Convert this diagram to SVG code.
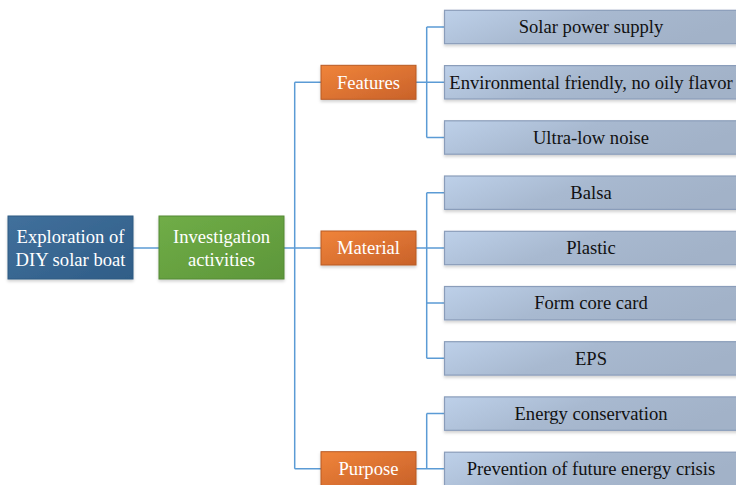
<svg xmlns="http://www.w3.org/2000/svg" width="736" height="485" viewBox="0 0 736 485">
<defs>
<linearGradient id="gBlue" x1="0" y1="0" x2="1" y2="1"><stop offset="0" stop-color="#41709c"/><stop offset="1" stop-color="#2f5d87"/></linearGradient>
<linearGradient id="gGreen" x1="0" y1="0" x2="1" y2="1"><stop offset="0" stop-color="#70ad47"/><stop offset="1" stop-color="#5d963a"/></linearGradient>
<linearGradient id="gOrange" x1="0" y1="0" x2="1" y2="1"><stop offset="0" stop-color="#f0843a"/><stop offset="1" stop-color="#c9622a"/></linearGradient>
<linearGradient id="gLeaf" x1="0" y1="0" x2="1" y2="0.3"><stop offset="0" stop-color="#bdd0e9"/><stop offset="0.5" stop-color="#a8b9d0"/><stop offset="1" stop-color="#a2b2c8"/></linearGradient>
<filter id="sh" x="-10%" y="-20%" width="120%" height="150%"><feDropShadow dx="0" dy="2" stdDeviation="1.5" flood-color="#000" flood-opacity="0.18"/></filter>
</defs>
<style>
.root{fill:url(#gBlue);stroke:#2e5a82;stroke-width:1}
.inv{fill:url(#gGreen);stroke:#548a34;stroke-width:1}
.cat{fill:url(#gOrange);stroke:#b85a24;stroke-width:1}
.leaf{fill:url(#gLeaf);stroke:#8a9dba;stroke-width:1.2}
.wt{font-family:"Liberation Serif","Times New Roman",serif;font-size:18.6px;fill:#fff;text-anchor:middle}
.bt{font-family:"Liberation Serif","Times New Roman",serif;font-size:18.6px;fill:#111;text-anchor:middle}
.con{fill:none;stroke:#5b9bd5;stroke-width:1.5}
</style>
<g id="connectors">
<path class="con" d="M133 248H159"/>
<path class="con" d="M284 248H321M294.7 82.3V468.7M294.7 82.3H321M294.7 468.7H321"/>
<path class="con" d="M416 82.3H444.5M426.7 27V137.5M426.7 27H444.5M426.7 137.5H444.5"/>
<path class="con" d="M416 248H444.5M426.7 192.7V358.3M426.7 192.7H444.5M426.7 303H444.5M426.7 358.3H444.5"/>
<path class="con" d="M416 468.7H444.5M426.7 413.5V468.7M426.7 413.5H444.5"/>
</g>
<g id="root"><rect class="root" x="8" y="216" width="125" height="63" filter="url(#sh)"/><text class="wt" x="70.5" y="242.5">Exploration of</text><text class="wt" x="70.5" y="265.5">DIY solar boat</text></g>
<g id="investigation"><rect class="inv" x="159" y="216" width="125" height="63" filter="url(#sh)"/><text class="wt" x="221.5" y="242.5">Investigation</text><text class="wt" x="221.5" y="265.5">activities</text></g>
<g id="features"><rect class="cat" x="321" y="65.3" width="95" height="34" filter="url(#sh)"/><text class="wt" x="368.5" y="88.5">Features</text></g>
<g id="material"><rect class="cat" x="321" y="231" width="95" height="34" filter="url(#sh)"/><text class="wt" x="368.5" y="254.2">Material</text></g>
<g id="purpose"><rect class="cat" x="321" y="451.7" width="95" height="34" filter="url(#sh)"/><text class="wt" x="368.5" y="474.9">Purpose</text></g>
<g id="leaf1"><rect class="leaf" x="444.5" y="10.3" width="296" height="33.4" filter="url(#sh)"/><text class="bt" x="591" y="33.2">Solar power supply</text></g>
<g id="leaf2"><rect class="leaf" x="444.5" y="65.6" width="296" height="33.4" filter="url(#sh)"/><text class="bt" x="591" y="88.5">Environmental friendly, no oily flavor</text></g>
<g id="leaf3"><rect class="leaf" x="444.5" y="120.8" width="296" height="33.4" filter="url(#sh)"/><text class="bt" x="591" y="143.7">Ultra-low noise</text></g>
<g id="leaf4"><rect class="leaf" x="444.5" y="176" width="296" height="33.4" filter="url(#sh)"/><text class="bt" x="591" y="198.9">Balsa</text></g>
<g id="leaf5"><rect class="leaf" x="444.5" y="231.3" width="296" height="33.4" filter="url(#sh)"/><text class="bt" x="591" y="254.2">Plastic</text></g>
<g id="leaf6"><rect class="leaf" x="444.5" y="286.5" width="296" height="33.4" filter="url(#sh)"/><text class="bt" x="591" y="309.4">Form core card</text></g>
<g id="leaf7"><rect class="leaf" x="444.5" y="341.7" width="296" height="33.4" filter="url(#sh)"/><text class="bt" x="591" y="364.6">EPS</text></g>
<g id="leaf8"><rect class="leaf" x="444.5" y="396.9" width="296" height="33.4" filter="url(#sh)"/><text class="bt" x="591" y="419.8">Energy conservation</text></g>
<g id="leaf9"><rect class="leaf" x="444.5" y="452.2" width="296" height="33.4" filter="url(#sh)"/><text class="bt" x="591" y="475.1">Prevention of future energy crisis</text></g>
</svg>
